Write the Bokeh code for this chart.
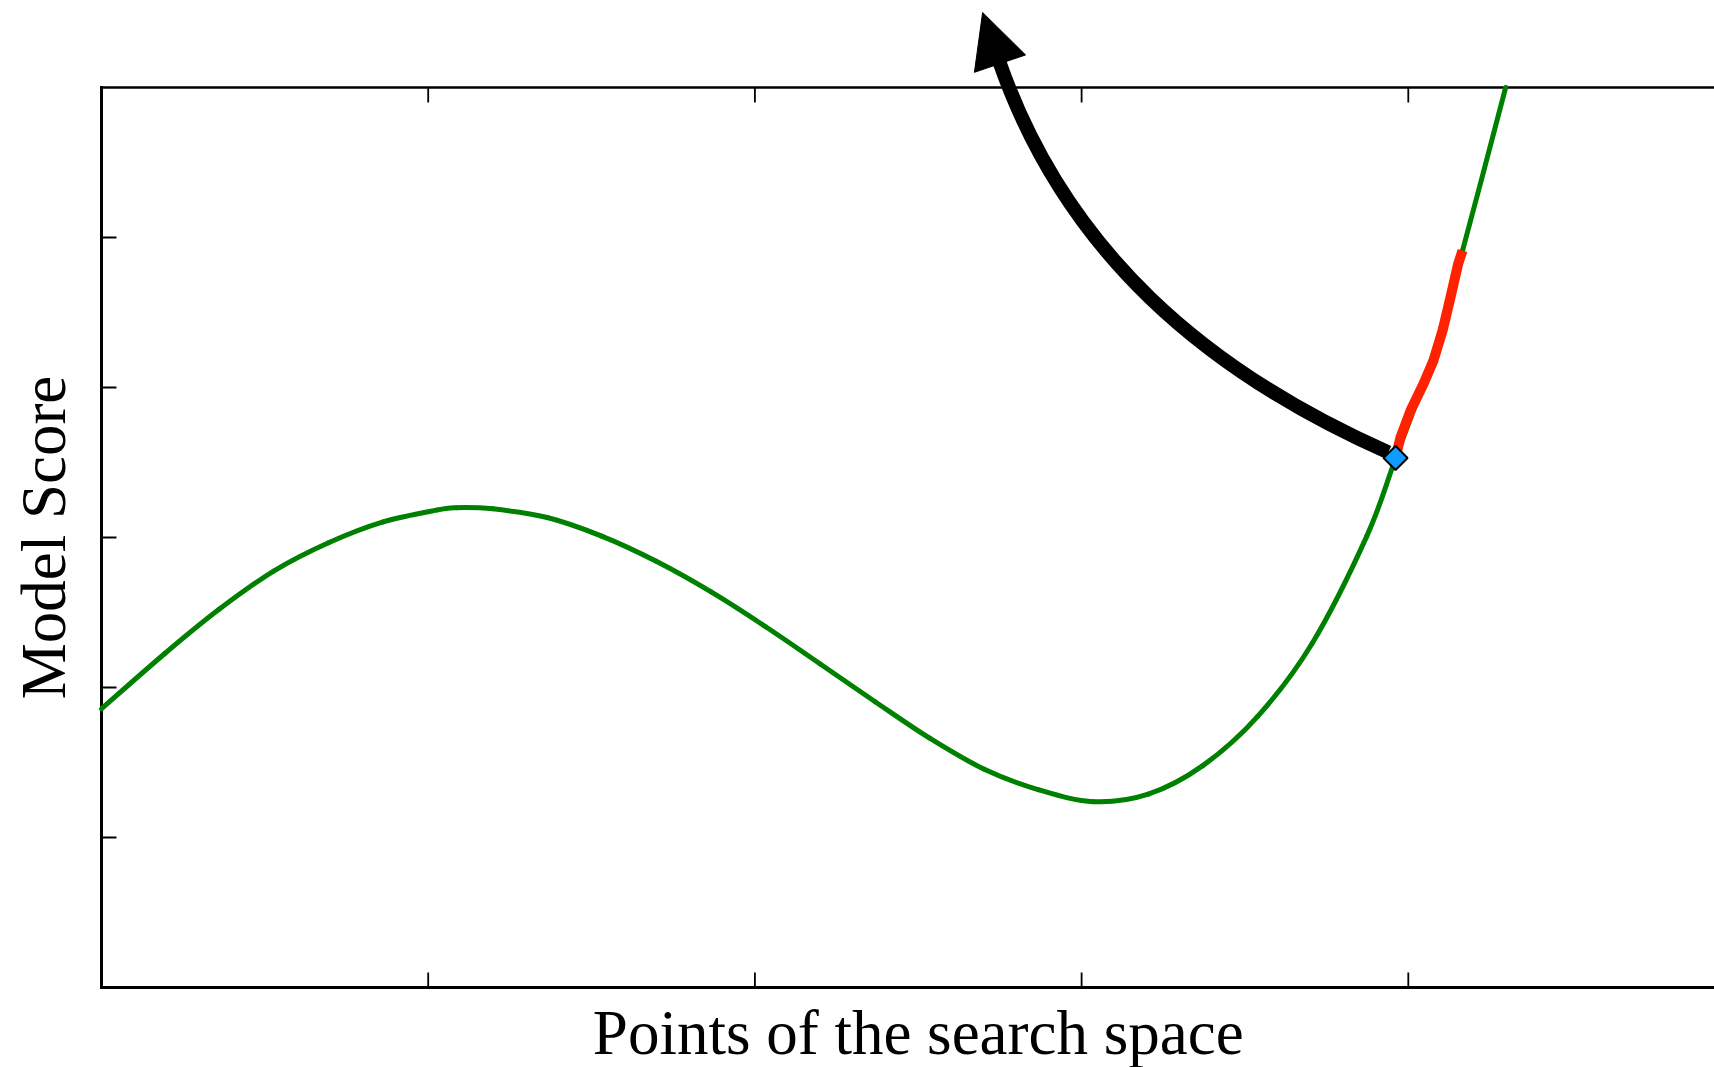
import numpy as np
from bokeh.plotting import figure
from bokeh.models import Range1d, Label, Arrow, NormalHead
from bokeh.embed import file_html
from bokeh.resources import INLINE

# Model score along the search space (green curve)
curve_x = [0.00, 0.193, 0.360, 0.527, 0.695, 0.862, 1.029, 1.086, 1.197, 1.364,
           1.531, 1.698, 1.866, 2.033, 2.200, 2.368, 2.535, 2.702, 2.869, 3.037,
           3.204, 3.371, 3.539, 3.706, 3.873, 3.961, 4.070, 4.166, 4.298]
curve_y = [1.858, 2.225, 2.521, 2.776, 2.965, 3.104, 3.184, 3.199, 3.191, 3.133,
           3.009, 2.841, 2.637, 2.405, 2.157, 1.905, 1.662, 1.455, 1.318, 1.239,
           1.289, 1.479, 1.807, 2.295, 3.009, 3.527, 4.180, 4.913, 6.000]

# Highlighted neighbourhood above the current point (red)
step_x = [3.961, 3.976, 4.007, 4.047, 4.077, 4.105, 4.129, 4.153, 4.166]
step_y = [3.533, 3.667, 3.847, 4.027, 4.180, 4.380, 4.600, 4.827, 4.913]

# Current point
point_x = [3.961]
point_y = [3.530]

# Curved arrow leaving the current point: start, two controls, end, tip
arrow_start = (3.939, 3.567)
arrow_ctrl1 = (3.379, 4.107)
arrow_ctrl2 = (2.951, 4.907)
arrow_end = (2.749, 6.167)
arrow_tip = (2.697, 6.500)

# Axis box and ticks
x_lim = (0, 5)
y_lim = (0, 6)
x_ticks = [1, 2, 3, 4]
y_ticks = [1, 2, 3, 4, 5]

x_label = "Points of the search space"
y_label = "Model Score"

FONT = "Liberation Serif"
W, H = 1714, 1067
PX_X = 326.7          # pixels per x unit
PX_Y = 150.0          # pixels per y unit
LEFT, BOTTOM = 101, 80
TICK = 15             # inward tick length, px

p = figure(width=W, height=H, output_backend="svg", toolbar_location=None,
           x_range=Range1d(-LEFT / PX_X, (W - LEFT) / PX_X),
           y_range=Range1d(-BOTTOM / PX_Y, (H - BOTTOM) / PX_Y),
           min_border=0)
p.xaxis.visible = False
p.yaxis.visible = False
p.xgrid.visible = False
p.ygrid.visible = False
p.outline_line_color = None
p.background_fill_color = "white"
p.border_fill_color = "white"

x_right = (W - LEFT) / PX_X + 0.05

# frame: bottom, left, top
p.segment(x0=[x_lim[0], x_lim[0]], y0=[y_lim[0], y_lim[0]],
          x1=[x_right, x_lim[0]], y1=[y_lim[0], y_lim[1]],
          line_color="black", line_width=3, line_cap="square")
p.segment(x0=[x_lim[0]], y0=[y_lim[1]], x1=[x_right], y1=[y_lim[1]],
          line_color="black", line_width=2.5, line_cap="square")
# inward ticks
p.segment(x0=x_ticks, y0=[y_lim[0]] * len(x_ticks), x1=x_ticks,
          y1=[y_lim[0] + TICK / PX_Y] * len(x_ticks), line_color="black", line_width=1.8)
p.segment(x0=x_ticks, y0=[y_lim[1]] * len(x_ticks), x1=x_ticks,
          y1=[y_lim[1] - TICK / PX_Y] * len(x_ticks), line_color="black", line_width=1.8)
p.segment(x0=[x_lim[0]] * len(y_ticks), y0=y_ticks, x1=[x_lim[0] + TICK / PX_X] * len(y_ticks),
          y1=y_ticks, line_color="black", line_width=1.8)

# smooth green curve: Catmull-Rom segments through the points, drawn as beziers
cx = np.array(curve_x)
cy = np.array(curve_y)
px = np.concatenate([[cx[0]], cx, [cx[-1]]])
py = np.concatenate([[cy[0]], cy, [cy[-1]]])
n = len(cx) - 1
b_x0 = px[1:n + 1]
b_y0 = py[1:n + 1]
b_x1 = px[2:n + 2]
b_y1 = py[2:n + 2]
b_cx0 = b_x0 + (px[2:n + 2] - px[0:n]) / 6
b_cy0 = b_y0 + (py[2:n + 2] - py[0:n]) / 6
b_cx1 = b_x1 - (px[3:n + 3] - px[1:n + 1]) / 6
b_cy1 = b_y1 - (py[3:n + 3] - py[1:n + 1]) / 6
p.bezier(x0=b_x0, y0=b_y0, x1=b_x1, y1=b_y1, cx0=b_cx0, cy0=b_cy0, cx1=b_cx1, cy1=b_cy1,
         line_color="#008000", line_width=5, line_cap="round")

p.line(step_x, step_y, line_color="#ff2200", line_width=10, line_join="round", line_cap="butt")

p.bezier(x0=[arrow_start[0]], y0=[arrow_start[1]], x1=[arrow_end[0]], y1=[arrow_end[1]],
         cx0=[arrow_ctrl1[0]], cy0=[arrow_ctrl1[1]], cx1=[arrow_ctrl2[0]], cy1=[arrow_ctrl2[1]],
         line_color="black", line_width=14)
p.add_layout(Arrow(end=NormalHead(size=54, fill_color="black", line_color="black", line_width=1),
                   x_start=arrow_end[0], y_start=arrow_end[1],
                   x_end=arrow_tip[0], y_end=arrow_tip[1], line_alpha=0))

p.scatter(point_x, point_y, marker="square", angle=np.pi / 4, size=17,
          fill_color="#0f9bff", line_color="black", line_width=2)

p.add_layout(Label(x=sum(x_lim) / 2, y=-45 / PX_Y, text=x_label, text_font=FONT,
                   text_font_size="63px", text_align="center", text_baseline="alphabetic",
                   text_color="black"))
p.add_layout(Label(x=-58 / PX_X, y=sum(y_lim) / 2, text=y_label, text_font=FONT, angle=np.pi / 2,
                   text_font_size="63px", text_align="center", text_baseline="alphabetic",
                   text_color="black"))

open("out.html", "w").write(file_html(p, INLINE))
